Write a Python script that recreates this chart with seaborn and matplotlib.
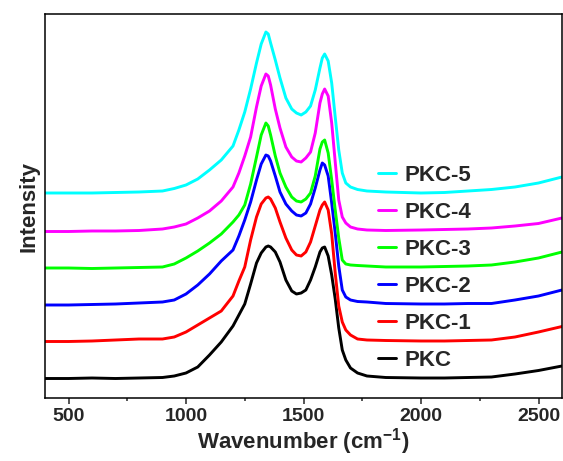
import numpy as np
import pandas as pd
import matplotlib
matplotlib.use("Agg")
import matplotlib.pyplot as plt
from matplotlib.ticker import MultipleLocator
import seaborn as sns

# Raman shift grid (cm-1) and stacked intensities (a.u., offset already included)
wavenumber = [400, 500, 600, 700, 800, 900, 950, 1000, 1050, 1100, 1150, 1200, 1225, 1250,
              1275, 1300, 1320, 1340, 1350, 1360, 1380, 1400, 1425, 1450, 1470, 1490, 1510,
              1530, 1550, 1570, 1580, 1590, 1605, 1620, 1635, 1650, 1665, 1680, 1700, 1730,
              1770, 1850, 2000, 2100, 2200, 2300, 2400, 2500, 2600]

pkc = [19.5, 19.5, 20, 19.5, 20, 20.5, 22, 25, 31, 43, 56, 72, 83, 94,
       114, 135, 145, 151, 152, 151, 146, 136, 118, 107, 104, 105, 108,
       118, 131, 146, 150, 151, 142, 123, 99, 70, 48, 38, 30, 25,
       22, 20.5, 20, 20, 20.5, 21, 24, 27.5, 32]

pkc1 = [56.5, 56.5, 57, 58, 59, 59, 61, 66, 73, 80, 87, 102, 117, 131,
        158, 181, 194, 200, 201, 199, 190, 176, 160, 148, 143, 142, 146,
        156, 172, 188, 193, 196, 188, 164, 125, 92, 76, 68, 63, 59,
        58, 57.5, 57, 57, 57.5, 58, 61, 66, 71.5]

pkc2 = [93, 93, 93.5, 94, 95, 96, 98, 104, 113, 124, 137, 148, 162, 178,
        196, 218, 234, 243, 242, 237, 222, 206, 194, 187, 183, 182, 185,
        194, 210, 228, 235, 233, 222, 195, 165, 132, 108, 101, 98, 96.5,
        96, 94.5, 94, 94, 94.5, 94.5, 98, 102, 108]

pkc3 = [130, 130, 129.5, 130, 130.5, 131, 134, 140, 147, 155, 164, 176, 183, 193,
        214, 241, 263, 275, 272, 263, 242, 225, 211, 201, 197, 196, 199,
        205, 222, 249, 256, 258, 245, 218, 188, 160, 138, 134, 133, 132.5,
        132, 131, 131, 131.5, 132, 133, 136, 140, 146]

pkc4 = [166.5, 166.5, 167, 167, 167.5, 169, 171, 174, 180, 187, 197, 211, 225, 242,
        261, 291, 312, 324, 322, 313, 289, 270, 251, 241, 237, 236, 240,
        246, 265, 295, 304, 309, 302, 275, 236, 198, 181, 175, 171, 169,
        168, 167.5, 168, 168.5, 169, 170, 172, 174.5, 180]

pkc5 = [205, 205, 205, 205.5, 206, 207, 209.5, 213, 219, 228, 238, 252, 268, 286,
        309, 335, 354, 366, 364, 355, 338, 320, 300, 289, 285, 283, 286,
        292, 308, 330, 340, 344, 337, 315, 281, 248, 225, 215, 211, 208.5,
        207, 206, 205, 205.5, 207, 208.5, 211, 215, 221]

names = ["PKC", "PKC-1", "PKC-2", "PKC-3", "PKC-4", "PKC-5"]
series = [pkc, pkc1, pkc2, pkc3, pkc4, pkc5]
colors = ["#000000", "#ff0000", "#0000ff", "#00ff00", "#ff00ff", "#00ffff"]

df = pd.concat([pd.DataFrame({"Wavenumber": wavenumber, "Intensity": s, "Sample": n})
                for n, s in zip(names, series)], ignore_index=True)

sns.set_theme(style="ticks")
plt.rcParams["font.family"] = ["Liberation Sans", "DejaVu Sans"]
plt.rcParams["font.weight"] = "bold"
plt.rcParams["mathtext.fontset"] = "custom"
plt.rcParams["mathtext.rm"] = "Liberation Sans:bold"
plt.rcParams["mathtext.bf"] = "Liberation Sans:bold"
plt.rcParams["lines.solid_joinstyle"] = "round"
plt.rcParams["lines.solid_capstyle"] = "round"

fig = plt.figure(figsize=(5.63, 4.61), dpi=100)
ax = fig.add_axes([45 / 563, 63 / 461, 517 / 563, 384 / 461])

sns.lineplot(data=df, x="Wavenumber", y="Intensity", hue="Sample",
             palette=dict(zip(names, colors)), hue_order=names,
             linewidth=2.1, ax=ax, sort=False)

ax.set_xlim(400, 2600)
ax.set_ylim(0, 384)
ax.xaxis.set_major_locator(MultipleLocator(500))
ax.xaxis.set_minor_locator(MultipleLocator(250))
ax.set_yticks([])
ax.tick_params(axis="x", which="major", direction="out", length=4, width=1.1,
               labelsize=14, pad=3)
ax.tick_params(axis="x", which="minor", direction="out", length=2.5, width=1.1)
for lbl in ax.get_xticklabels():
    lbl.set_fontweight("bold")
for sp in ax.spines.values():
    sp.set_linewidth(1.1)
    sp.set_color("black")

ax.set_xlabel("Wavenumber (cm$^{\\mathbf{-1}}$)", fontsize=16, fontweight="bold", labelpad=1)
ax.set_ylabel("Intensity", fontsize=16, fontweight="bold", labelpad=4)

handles, labels = ax.get_legend_handles_labels()
leg = ax.legend(handles[::-1], labels[::-1], loc="upper left",
                bbox_to_anchor=(378 / 563, 1 - 165 / 461), bbox_transform=fig.transFigure,
                frameon=False, fontsize=16, handlelength=0.8, handletextpad=0.4,
                labelspacing=0.72, borderpad=0, borderaxespad=0)
for t in leg.get_texts():
    t.set_fontweight("bold")

fig.savefig("out.png", dpi=100)
